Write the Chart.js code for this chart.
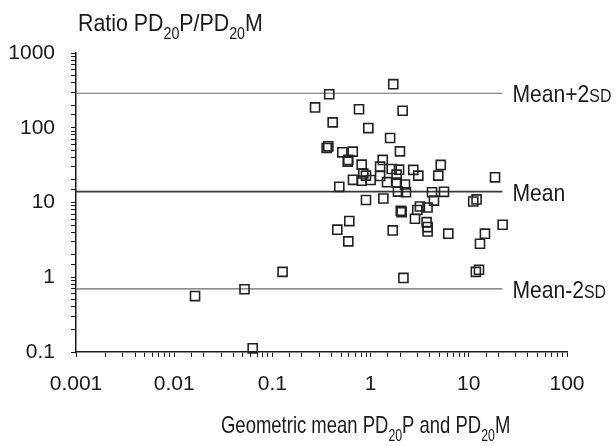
<!DOCTYPE html>
<html>
<head>
<meta charset="utf-8">
<script src="https://cdn.jsdelivr.net/npm/chart.js@4/dist/chart.umd.min.js"></script>
<style>
  html, body { margin: 0; padding: 0; background: #fff; }
  #wrap { width: 616px; height: 446px; }
</style>
</head>
<body>
<div id="wrap"><canvas id="ratioChart" width="616" height="446"></canvas></div>
<script>
// geometric mean PD20P and PD20M (x) and ratio PD20P/PD20M (y)
const xGeoMean = [
  1.70, 0.379, 0.272, 0.762, 2.12, 0.411, 0.948, 1.58, 0.371, 0.357,
  1.99, 0.515, 0.658, 0.593, 0.585, 5.18, 1.33, 0.811, 1.25, 1.64,
  1.95, 2.72, 0.843, 0.897, 1.25, 1.84, 4.89, 3.06, 18.5, 0.662,
  0.811, 1.00, 1.47, 1.84, 2.24, 0.480, 1.90, 2.29, 4.22, 5.59,
  0.897, 1.35, 4.42, 3.80, 11.1, 12.0, 2.03, 2.07, 3.18, 2.99,
  2.83, 3.72, 3.81, 3.81, 0.607, 0.458, 0.593, 1.68, 6.18, 22.1,
  14.6, 13.0, 0.127, 2.16, 11.8, 12.7, 0.0163, 0.052, 0.063
];
const yRatio = [
  383, 281, 187, 177, 169, 118, 99, 72.9, 56.4, 53.6,
  48.3, 46.9, 47.9, 37.1, 35.2, 31.8, 37.1, 32.1, 30.2, 28.1,
  27.5, 27.3, 24.4, 22.9, 22.6, 23.6, 22.9, 22.9, 21.7, 20.1,
  19.6, 20.0, 18.7, 18.5, 17.4, 16.2, 14.0, 13.7, 13.7, 13.9,
  10.8, 11.3, 10.6, 8.58, 10.3, 11.0, 7.75, 7.43, 8.85, 7.94,
  6.06, 5.46, 4.69, 4.10, 5.64, 4.33, 3.02, 4.23, 3.83, 5.04,
  3.83, 2.81, 1.18, 0.98, 1.18, 1.26, 0.56, 0.69, 0.112
];

// reference lines
const refNames = ['Mean+2', 'Mean', 'Mean-2'];
const refSuffix = ['SD', '', 'SD'];
const refLevels = [290, 14, 0.7];
const refXRange = [0.001, 22];

const xTickLabels = ['0.001', '0.01', '0.1', '1', '10', '100'];
const yTickLabels = ['0.1', '1', '10', '100', '1000'];

const FONT = '"Liberation Sans", Arial, sans-serif';
const INK = '#1a1a1a';

const points = xGeoMean.map((x, i) => ({ x: x, y: yRatio[i] }));

const refSets = refLevels.map((lvl, i) => ({
  type: 'line',
  label: refNames[i] + refSuffix[i],
  data: refXRange.map(x => ({ x: x, y: lvl })),
  borderColor: i === 1 ? '#3a3a3a' : '#6a6a6a',
  borderWidth: i === 1 ? 1.6 : 1.1,
  pointRadius: 0,
  fill: false
}));

function decadeLabel(v, labels, firstExp) {
  const l = Math.log10(v);
  const e = Math.round(l);
  if (Math.abs(l - e) > 1e-6) return '';
  return labels[e - firstExp] || '';
}

// text with subscripts / small caps, squeezed horizontally like a narrow face
function drawRich(ctx, parts, x, y, squeeze) {
  ctx.save();
  ctx.translate(x, y);
  ctx.scale(squeeze, 1);
  let cx = 0;
  parts.forEach(p => {
    const size = p.sub ? 16 : (p.small ? 18 : 24);
    ctx.font = size + 'px ' + FONT;
    const dy = p.sub ? 8 : 0;
    ctx.fillText(p.t, cx, dy);
    cx += ctx.measureText(p.t).width;
  });
  ctx.restore();
}

const annotations = {
  id: 'annotations',
  afterDraw(chart) {
    const ctx = chart.ctx;
    const xs = chart.scales.x, ys = chart.scales.y;
    ctx.save();
    ctx.fillStyle = INK;
    ctx.textBaseline = 'alphabetic';
    ctx.textAlign = 'left';

    // y title above axis
    drawRich(ctx, [
      { t: 'Ratio PD' }, { t: '20', sub: true }, { t: 'P/PD' }, { t: '20', sub: true }, { t: 'M' }
    ], xs.left + 2, 31, 0.89);

    // x title below axis
    drawRich(ctx, [
      { t: 'Geometric mean PD' }, { t: '20', sub: true }, { t: 'P and PD' }, { t: '20', sub: true }, { t: 'M' }
    ], 221, 433, 0.77);

    // labels at end of reference lines
    const lx = xs.getPixelForValue(refXRange[1]) + 10;
    refLevels.forEach((lvl, i) => {
      const py = ys.getPixelForValue(lvl) + 9;
      drawRich(ctx, [{ t: refNames[i] }, { t: refSuffix[i], small: true }], lx, py, 0.88);
    });
    ctx.restore();
  }
};

new Chart(document.getElementById('ratioChart'), {
  type: 'scatter',
  data: {
    datasets: [
      {
        label: 'Ratio',
        data: points,
        pointStyle: 'rect',
        pointRadius: 6.4,
        pointHoverRadius: 6.4,
        pointBorderWidth: 1.6,
        pointBorderColor: '#222',
        pointBackgroundColor: 'rgba(0,0,0,0)',
        clip: false
      },
      ...refSets
    ]
  },
  options: {
    responsive: false,
    animation: false,
    events: [],
    layout: { padding: { left: 0, right: 49, top: 53, bottom: 0 } },
    plugins: {
      legend: { display: false },
      tooltip: { enabled: false }
    },
    scales: {
      x: {
        type: 'logarithmic',
        min: 0.001,
        max: 100,
        afterFit(scale) { scale.height = 94; },
        border: { color: INK, width: 1.5 },
        grid: { drawOnChartArea: false, drawTicks: true, tickLength: 5, color: INK, lineWidth: 1 },
        ticks: {
          autoSkip: false,
          maxRotation: 0,
          padding: 15,
          color: INK,
          font: { family: FONT, size: 21 },
          callback: v => decadeLabel(v, xTickLabels, -3)
        }
      },
      y: {
        type: 'logarithmic',
        min: 0.1,
        max: 1000,
        afterFit(scale) { scale.width = 76; },
        border: { color: INK, width: 1.5 },
        grid: { drawOnChartArea: false, drawTicks: true, tickLength: 5, color: INK, lineWidth: 1 },
        ticks: {
          autoSkip: false,
          padding: 16,
          color: INK,
          font: { family: FONT, size: 21 },
          callback: v => decadeLabel(v, yTickLabels, -1)
        }
      }
    }
  },
  plugins: [annotations]
});
</script>
</body>
</html>
